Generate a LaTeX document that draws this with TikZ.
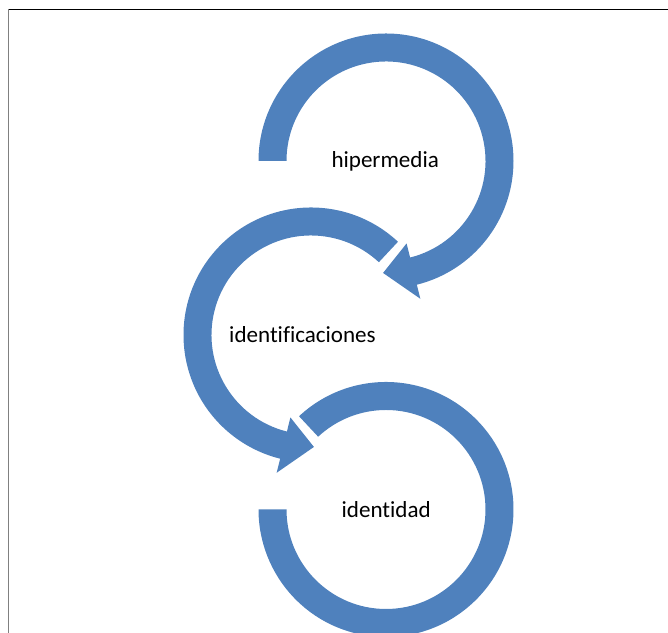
\documentclass[tikz,border=0pt]{standalone}
\usepackage{fontspec}
\setmainfont{Carlito}[Ligatures=NoCommon]
\usepackage{xcolor}
\usepackage{tikz}
\usetikzlibrary{positioning,calc}

\definecolor{ringblue}{RGB}{79,129,189}

\tikzset{
    ringarrow/.style={fill=ringblue, draw=none},
    ringlabel/.style={anchor=base, font=\fontsize{16.4}{19}\selectfont, text=black}
}

\begin{document}
\begin{tikzpicture}
    % Page size and the frame (top and left only)
    \useasboundingbox (0,0) rectangle (16.7,15.825);
    \clip (0,0) rectangle (16.7,15.825);
    \draw[black, line width=0.7pt] (0.2125,15.5875) -- (16.7,15.5875);
    \draw[gray, line width=1pt] (0.2125,15.5875) -- (0.2125,0);

    % Centres of the three rings
    \coordinate (hiperC) at (9.65,11.8);
    \coordinate (identifC) at (7.775,7.45);
    \coordinate (identC) at (9.65,3.0875);

    % Top ring: clockwise, head points down into the gap of the middle ring
    \begin{scope}[shift={(hiperC)}]
        \fill[ringarrow] (180:3.1875) arc[start angle=180, end angle=-76, radius=3.1875]
            -- (-76:3.55) -- (-91.5:2.8) -- (-76:2.125) -- (-76:2.4875)
            arc[start angle=-76, end angle=180, radius=2.4875] -- cycle;
    \end{scope}

    % Middle ring: counter-clockwise
    \begin{scope}[shift={(identifC)}]
        \fill[ringarrow] (47:3.1875) arc[start angle=47, end angle=256, radius=3.1875]
            -- (256:3.55) -- (271.5:2.8) -- (256:2.125) -- (256:2.4875)
            arc[start angle=256, end angle=47, radius=2.4875] -- cycle;
    \end{scope}

    % Bottom ring: clockwise, no head
    \begin{scope}[shift={(identC)}]
        \fill[ringarrow] (133:3.1875) arc[start angle=133, end angle=-180, radius=3.1875]
            -- (180:2.4875)
            arc[start angle=-180, end angle=133, radius=2.4875] -- cycle;
    \end{scope}

    % Labels
    \node[ringlabel] (hipermedia) at (9.63,11.625) {hipermedia};
    \node[ringlabel] (identificaciones) at (7.5625,7.25) {identificaciones};
    \node[ringlabel] (identidad) at (9.655,2.875) {identidad};
\end{tikzpicture}
\end{document}
